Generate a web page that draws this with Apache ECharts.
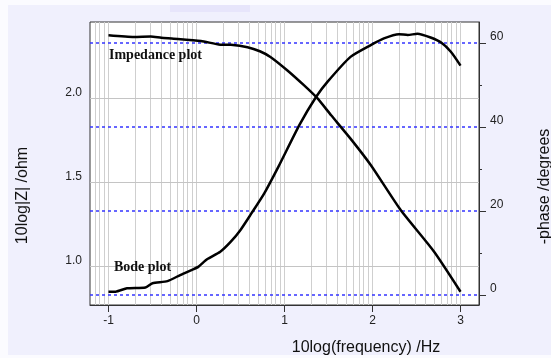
<!DOCTYPE html>
<html>
<head>
<meta charset="utf-8">
<script src="https://cdn.jsdelivr.net/npm/echarts@6/dist/echarts.min.js"></script>
<style>
  html, body { margin: 0; padding: 0; background: #fbfbff; overflow: hidden; width: 551px; height: 358px; }
  #chart { width: 551px; height: 358px; }
</style>
</head>
<body>
<div id="chart"></div>
<script>
// Frequency axis ticks (log10 of frequency in Hz)
const freqTicks = [-1, 0, 1, 2, 3];
const zTicks = [1.0, 1.5, 2.0];
const phaseTicks = [0, 20, 40, 60];
const phaseMinorTicks = [10, 30, 50];

// Impedance magnitude: log10 f vs log10 |Z|
const impLogF = [-1.00, -0.71, -0.52, -0.40, -0.26, 0.05, 0.27, 0.39, 0.58, 0.72, 0.84, 1.03, 1.22, 1.37, 1.53, 1.75, 1.98, 2.32, 2.70, 3.00];
const impLogZ = [2.377, 2.367, 2.369, 2.362, 2.357, 2.343, 2.321, 2.320, 2.306, 2.282, 2.248, 2.169, 2.080, 2.004, 1.901, 1.762, 1.605, 1.337, 1.089, 0.851];

// Phase: log10 f vs -phase in degrees
const phLogF = [-1.00, -0.92, -0.79, -0.58, -0.50, -0.33, -0.18, -0.05, 0.02, 0.12, 0.27, 0.39, 0.50, 0.62, 0.77, 0.93, 1.17, 1.36, 1.49, 1.75, 1.98, 2.13, 2.30, 2.40, 2.51, 2.66, 2.78, 2.89, 3.00];
const phDeg = [0.8, 0.8, 1.6, 1.8, 2.8, 3.3, 4.8, 6.0, 6.7, 8.5, 10.3, 12.7, 15.5, 19.3, 24.2, 30.5, 40.5, 47.2, 50.8, 56.7, 59.5, 61.1, 62.1, 61.9, 62.2, 61.3, 60.1, 57.9, 54.6];

// Logarithmic vertical grid: lines at k * 10^d
const logGrid = [];
for (let d = -2; d <= 3; d++) {
  for (let k = 1; k <= 9; k++) {
    const v = d + Math.log10(k);
    if (v > -1.21 && v < 3.21) logGrid.push(v);
  }
}

const X_MIN = -1.21, X_MAX = 3.21;
const Z_MIN = 0.772, Z_MAX = 2.456;
const P_MIN = -2.381, P_MAX = 65.0;

const tickLabel = { fontFamily: 'Liberation Sans, Arial, sans-serif', fontSize: 12, color: '#222' };
const titleFont = { fontFamily: 'Liberation Sans, Arial, sans-serif', fontSize: 16, color: '#111' };

const chart = echarts.init(document.getElementById('chart'), null, { renderer: 'canvas' });

chart.setOption({
  animation: false,
  backgroundColor: '#fbfbff',
  graphic: [
    { type: 'rect', z: -10, shape: { x: 8, y: 5, width: 543, height: 350 }, style: { fill: '#f0f0fd' } },
    { type: 'rect', z: -9, shape: { x: 170, y: 5, width: 80, height: 7 }, style: { fill: '#e7e5fb' } },
    { type: 'text', z: 100, left: 109, top: 48,
      style: { text: 'Impedance plot', font: 'bold 14px "Liberation Serif", "Times New Roman", serif', fill: '#111' } },
    { type: 'text', z: 100, left: 114, top: 260,
      style: { text: 'Bode plot', font: 'bold 14px "Liberation Serif", "Times New Roman", serif', fill: '#111' } }
  ],
  grid: {
    left: 90, top: 22, right: 72, bottom: 53,
    outerBoundsMode: 'none', containLabel: false,
    show: true, backgroundColor: '#ffffff', borderColor: '#333', borderWidth: 1
  },
  xAxis: {
    type: 'value', min: X_MIN, max: X_MAX,
    name: '10log(frequency) /Hz', nameLocation: 'middle', nameGap: 35,
    nameTextStyle: Object.assign({}, titleFont, { padding: [0, 0, 0, 163] }),
    axisLine: { show: true, onZero: false, lineStyle: { color: '#333', width: 1 } },
    axisTick: { show: true, customValues: freqTicks, length: 7, lineStyle: { color: '#333' } },
    axisLabel: Object.assign({ customValues: freqTicks, margin: 10 }, tickLabel),
    splitLine: { show: false }
  },
  yAxis: [
    {
      type: 'value', min: Z_MIN, max: Z_MAX, position: 'left',
      name: '10log|Z| /ohm', nameLocation: 'middle', nameGap: 59, nameRotate: 90,
      nameTextStyle: Object.assign({}, titleFont, { padding: [0, 64, 0, 0] }),
      axisLine: { show: true, lineStyle: { color: '#333', width: 1 } },
      axisTick: { show: true, customValues: zTicks, length: 7, lineStyle: { color: '#333' } },
      axisLabel: Object.assign({ customValues: zTicks, margin: 8, verticalAlign: 'bottom',
        formatter: v => v.toFixed(1) }, tickLabel),
      splitLine: { show: false }
    },
    {
      type: 'value', min: P_MIN, max: P_MAX, position: 'right',
      name: '-phase /degrees', nameLocation: 'middle', nameGap: 58, nameRotate: 90,
      nameTextStyle: Object.assign({}, titleFont, { padding: [0, 46, 0, 0] }),
      axisLine: { show: true, lineStyle: { color: '#333', width: 1 } },
      axisTick: { show: true, customValues: phaseTicks, length: 7, lineStyle: { color: '#333' } },
      axisLabel: Object.assign({ customValues: phaseTicks, margin: 11, verticalAlign: 'bottom' }, tickLabel),
      splitLine: { show: false }
    },
    {
      type: 'value', min: P_MIN, max: P_MAX, position: 'right', offset: 0,
      axisLine: { show: false },
      axisTick: { show: true, customValues: phaseMinorTicks, length: 3, lineStyle: { color: '#333' } },
      axisLabel: { show: false },
      splitLine: { show: false }
    }
  ],
  series: [
    {
      // frequency grid lines
      type: 'line', xAxisIndex: 0, yAxisIndex: 0, data: [], silent: true,
      markLine: {
        silent: true, symbol: 'none', animation: false, label: { show: false },
        lineStyle: { color: '#cfcfcf', width: 1, type: 'solid' },
        data: logGrid.map(v => ({ xAxis: v }))
      }
    },
    {
      // |Z| grid lines
      type: 'line', xAxisIndex: 0, yAxisIndex: 0, data: [], silent: true,
      markLine: {
        silent: true, symbol: 'none', animation: false, label: { show: false },
        lineStyle: { color: '#c4c4c4', width: 1, type: 'solid' },
        data: zTicks.map(v => ({ yAxis: v }))
      }
    },
    {
      // phase grid lines
      type: 'line', xAxisIndex: 0, yAxisIndex: 1, data: [], silent: true,
      markLine: {
        silent: true, symbol: 'none', animation: false, label: { show: false },
        lineStyle: { color: '#3434ff', width: 1.5, type: [3, 3], opacity: 1 },
        emphasis: { disabled: true },
        data: phaseTicks.map(v => ({ yAxis: v }))
      }
    },
    {
      name: 'Impedance plot', type: 'line', xAxisIndex: 0, yAxisIndex: 0,
      data: impLogF.map((f, i) => [f, impLogZ[i]]),
      showSymbol: false, smooth: 0.2, z: 10,
      lineStyle: { color: '#000', width: 2.5 }
    },
    {
      name: 'Bode plot', type: 'line', xAxisIndex: 0, yAxisIndex: 1,
      data: phLogF.map((f, i) => [f, phDeg[i]]),
      showSymbol: false, smooth: 0.2, z: 10,
      lineStyle: { color: '#000', width: 2.5 }
    }
  ]
});
</script>
</body>
</html>
